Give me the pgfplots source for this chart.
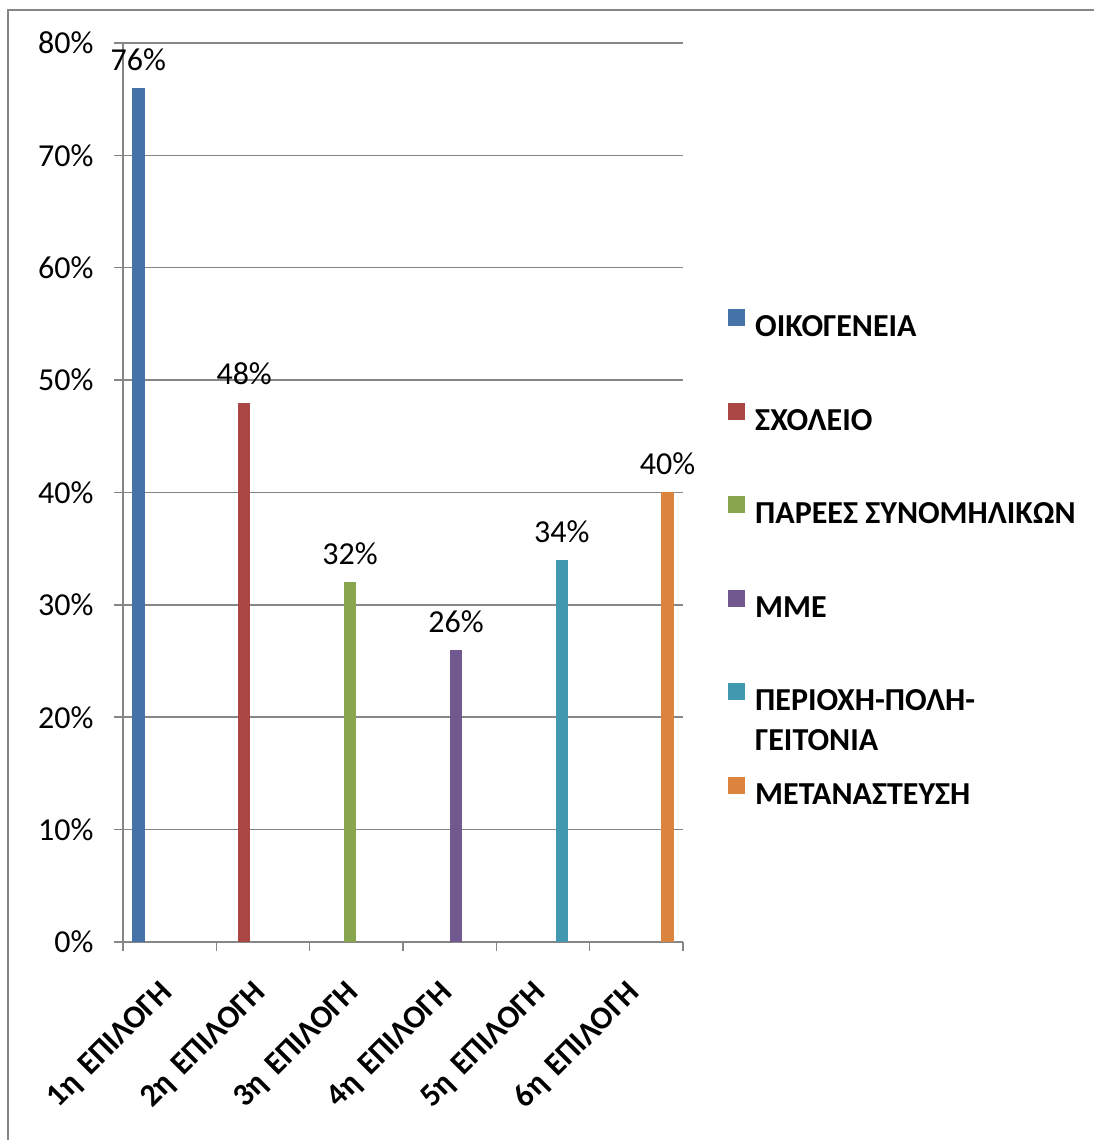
\documentclass[border=0pt]{standalone}
\usepackage{pgfplots}
\pgfplotsset{compat=1.18}
\usepackage{fontspec}
\setmainfont{Carlito}
\definecolor{c1}{HTML}{4572A7}
\definecolor{c2}{HTML}{AA4643}
\definecolor{c3}{HTML}{89A54E}
\definecolor{c4}{HTML}{71588F}
\definecolor{c5}{HTML}{4198AF}
\definecolor{c6}{HTML}{DB843D}
\definecolor{gridc}{HTML}{868686}
\newcommand{\bigfont}{\fontsize{32}{38}\selectfont}
\begin{document}
\begin{tikzpicture}[x=1pt,y=1pt]
\useasboundingbox (-123,-198) rectangle (971,942);
\draw[gridc, line width=1.5pt] (-115,-198) -- (-115,932) -- (971,932);
\begin{axis}[
  at={(0,0)}, anchor=south west,
  width=560pt, height=899pt, scale only axis,
  xmin=-0.5, xmax=5.5, ymin=0, ymax=80,
  axis lines*=left,
  axis line style={gridc, line width=1.5pt},
  /pgf/number format/assume math mode=true,
  ytick={0,10,20,30,40,50,60,70,80},
  yticklabels={0\%,10\%,20\%,30\%,40\%,50\%,60\%,70\%,80\%},
  yticklabel style={font=\bigfont, text=black, xshift=-17pt},
  ymajorgrids,
  grid style={gridc, line width=1.5pt},
  xtick={-0.5,0.5,1.5,2.5,3.5,4.5,5.5},
  xticklabels={},
  extra x ticks={0,1,2,3,4,5},
  extra x tick labels={1η\hspace{0.35em}ΕΠΙΛΟΓΗ,2η\hspace{0.35em}ΕΠΙΛΟΓΗ,3η\hspace{0.35em}ΕΠΙΛΟΓΗ,4η\hspace{0.35em}ΕΠΙΛΟΓΗ,5η\hspace{0.35em}ΕΠΙΛΟΓΗ,6η\hspace{0.35em}ΕΠΙΛΟΓΗ},
  extra x tick style={major tick length=0pt, grid=none,
    xticklabel style={yshift=-32pt, xshift=-11pt, rotate=45, anchor=north east, font=\bfseries\bigfont, text=black}},
  tick align=outside,
  major tick length=9pt,
  tick style={gridc, line width=1.5pt},
  ybar, bar width=12.5pt,
  every axis plot/.append style={draw=none},
  nodes near coords={\pgfmathprintnumber{\pgfplotspointmeta}\%},
  every node near coord/.append style={font=\bigfont, text=black, yshift=14pt},
  legend cell align=left,
  legend style={at={(1.0804,0.704)}, anchor=north west, draw=none, fill=none,
    inner sep=0pt, row sep=66pt, column sep=10pt,
    font=\bfseries\bigfont,
    nodes={inner sep=0pt, text height=20pt, text depth=0pt}},
  legend image code/.code={\fill[#1] (0pt,0.5pt) rectangle (17pt,17.5pt);},
]
\addplot[fill=c1, bar shift=-31.3pt] coordinates {(0,76)};
\addlegendentry{ΟΙΚΟΓΕΝΕΙΑ}
\addplot[fill=c2, bar shift=-18.8pt] coordinates {(1,48)};
\addlegendentry{ΣΧΟΛΕΙΟ}
\addplot[fill=c3, bar shift=-6.3pt] coordinates {(2,32)};
\addlegendentry{ΠΑΡΕΕΣ ΣΥΝΟΜΗΛΙΚΩΝ}
\addplot[fill=c4, bar shift=6.3pt] coordinates {(3,26)};
\addlegendentry{ΜΜΕ}
\addplot[fill=c5, bar shift=18.8pt] coordinates {(4,34)};
\addlegendentry{\begin{tabular}[t]{@{}l@{}}ΠΕΡΙΟΧΗ-ΠΟΛΗ-\\[2pt]ΓΕΙΤΟΝΙΑ\end{tabular}}
\addplot[fill=c6, bar shift=31.3pt] coordinates {(5,40)};
\addlegendentry{ΜΕΤΑΝΑΣΤΕΥΣΗ}
\end{axis}
\end{tikzpicture}
\end{document}
